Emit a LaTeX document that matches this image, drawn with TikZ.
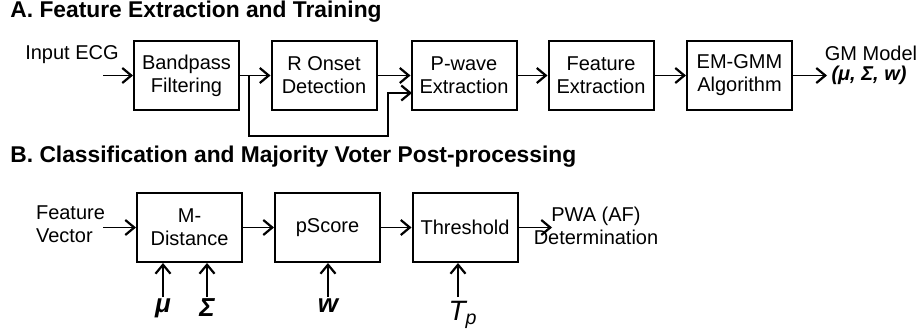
\documentclass[tikz,border=0pt]{standalone}
\usepackage{fontspec}
\setmainfont{Liberation Sans}
\usepackage{tikz}
\usetikzlibrary{arrows.meta}

\tikzset{
    bloque/.style={draw, line width=1pt, minimum width=52.5pt, minimum height=34.5pt,
        align=center, inner sep=1pt, font=\fontsize{10}{11.5}\selectfont},
    texto/.style={align=center, inner sep=1pt, font=\fontsize{10}{11.5}\selectfont},
    param/.style={anchor=north, inner sep=0.5pt, font=\fontsize{13}{13}\selectfont\bfseries\itshape},
    titulo/.style={anchor=west, inner sep=0pt, font=\fontsize{11.4}{13}\selectfont\bfseries},
    flecha/.style={->, line width=0.7pt}
}

\begin{document}
\begin{tikzpicture}[x=25pt, y=25pt, >={Straight Barb[length=4.5pt,width=7.5pt,line width=1.1pt]}]
        \useasboundingbox (0,0) rectangle (18.42,6.66);

        % Titulos de las dos partes
        \node[titulo] (tituloA) at (0.2,6.42) {A. Feature Extraction and Training};
        \node[titulo] (tituloB) at (0.2,3.52) {B. Classification and Majority Voter Post-processing};

        % Parte A: bloques de extraccion y entrenamiento
        \node[bloque] (bp) at (3.73,5.15) {Bandpass\\Filtering};
        \node[bloque] (ro) at (6.48,5.15) {R Onset\\Detection};
        \node[bloque] (pw) at (9.28,5.15) {P-wave\\Extraction};
        \node[bloque] (fe) at (12.02,5.15) {Feature\\Extraction};
        \node[bloque] (em) at (14.79,5.15) {EM-GMM\\Algorithm};

        % Entrada y salida de la parte A
        \node[texto] (ecg) at (1.44,5.56) {Input ECG};
        \coordinate (ent) at (2.06,5.15);
        \coordinate (sal) at (16.54,5.15);
        \node[texto] (gm) at (17.42,5.6) {GM Model};
        \node[texto] (par) at (17.38,5.16) {\textbf{\textit{(μ, Σ, w)}}};

        % Flechas de la parte A
        \draw[flecha] (ent) -- (bp);
        \draw[flecha] (bp) -- (ro);
        \draw[flecha] (ro) -- (pw);
        \draw[flecha] (pw) -- (fe);
        \draw[flecha] (fe) -- (em);
        \draw[flecha] (em.east) -- (sal);

        % Rama de la senal filtrada hacia P-wave
        \coordinate (rama) at (4.98,5.15);
        \coordinate (pwin) at (8.24,4.8);
        \draw[flecha] (rama) |- (7.76,3.94) |- (pwin);

        % Parte B: bloques de clasificacion
        \node[bloque] (md) at (3.79,2.11) {M-\\Distance};
        \node[bloque] (ps) at (6.55,2.11) {pScore};
        \node[bloque] (th) at (9.30,2.11) {Threshold};

        % Entrada y salida de la parte B
        \node[texto, align=left] (fv) at (1.41,2.18) {Feature\\Vector};
        \coordinate (entB) at (2.06,2.11);
        \coordinate (salB) at (11.04,2.11);
        \node[texto] (pwa) at (11.92,2.14) {PWA (AF)\\Determination};

        % Flechas de la parte B
        \draw[flecha] (entB) -- (md);
        \draw[flecha] (md) -- (ps);
        \draw[flecha] (ps) -- (th);
        \draw[flecha] (th.east) -- (salB);

        % Parametros de entrada desde abajo
        \node[param] (mu) at (3.26,0.72) {μ};
        \node[param] (sigma) at (4.14,0.72) {Σ};
        \node[param] (w) at (6.56,0.72) {w};
        \node[param, font=\fontsize{14}{14}\selectfont\itshape] (tp) at (9.26,0.66) {T\textsubscript{p}};
        \coordinate (tpin) at (9.16,0.72);
        \draw[flecha] (mu.north) -- (md.south -| mu.north);
        \draw[flecha] (sigma.north) -- (md.south -| sigma.north);
        \draw[flecha] (w.north) -- (ps.south -| w.north);
        \draw[flecha] (tpin) -- (th.south -| tpin);
\end{tikzpicture}
\end{document}
